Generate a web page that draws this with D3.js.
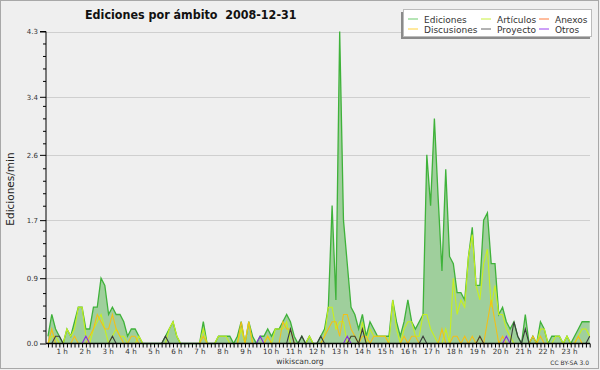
<!DOCTYPE html>
<html><head><meta charset="utf-8">
<script src="https://cdn.jsdelivr.net/npm/d3@7"></script>
<style>body{margin:0;background:#fff}svg{display:block}text{white-space:pre}</style>
</head><body>
<svg id="c" width="600" height="370"></svg>
<script>
const title = "Ediciones por ámbito  2008-12-31";
const yLabel = "Ediciones/min";
const credit = "wikiscan.org";
const license = "CC BY-SA 3.0";
const yTicks = [0.0, 0.9, 1.7, 2.6, 3.4, 4.3];
const hours = [1,2,3,4,5,6,7,8,9,10,11,12,13,14,15,16,17,18,19,20,21,22,23];
const hourLabels = ["1 h","2 h","3 h","4 h","5 h","6 h","7 h","8 h","9 h","10 h","11 h","12 h","13 h","14 h","15 h","16 h","17 h","18 h","19 h","20 h","21 h","22 h","23 h"];
const legendNames = ["Ediciones","Artículos","Anexos","Discusiones","Proyecto","Otros"];
const legendColors = ["#6ccb6c","#c8f03c","#ff7a3c","#ffd23c","#666666","#9a40f0"];

// one value per 10 minutes (edits per minute), 6 per row = one hour per row
const ediciones = [
0.1,0.4,0.2,0.1,0,0.2,
0.1,0.3,0.5,0.5,0.2,0.2,
0.5,0.5,0.9,0.8,0.4,0.5,
0.4,0.4,0.3,0.1,0.2,0.2,
0.1,0,0,0,0,0,
0,0.1,0.2,0.3,0.1,0,
0,0,0,0,0,0.3,
0,0,0,0.1,0.1,0.1,
0.1,0,0.1,0.3,0,0.3,
0.1,0,0.1,0.1,0.2,0.1,
0.2,0.2,0.3,0.4,0.3,0.1,
0,0.1,0,0.1,0,0,
0.1,0.2,0.5,1.9,0.6,4.3,
1.7,1.1,0.5,0.4,0.2,0.4,
0.1,0.3,0.2,0.1,0.1,0.1,
0.1,0.6,0.3,0.1,0.3,0.6,
0.3,0.2,0.3,0.4,2.6,1.9,
3.1,2.0,1.0,2.4,1.2,1.1,
0.7,0.7,0.6,1.2,1.6,0.8,
0.8,1.7,1.8,1.1,1.1,0.4,
0.5,0.3,0.2,0.3,0.1,0,
0.4,0,0.1,0,0.3,0.2,
0,0.1,0.1,0.1,0,0.1,
0,0.1,0.2,0.3,0.3,0.3];
const articulos = [
0,0.1,0.1,0,0,0.2,
0.1,0.2,0.5,0.5,0.1,0,
0.2,0.3,0.4,0.2,0,0.1,
0.2,0.1,0.1,0,0,0,
0.1,0,0,0,0,0,
0,0,0.2,0.3,0.1,0,
0,0,0,0,0,0.2,
0,0,0,0.1,0.1,0.1,
0,0,0,0.2,0,0.3,
0,0,0,0,0.1,0,
0.2,0.2,0.2,0.3,0,0,
0,0,0,0.1,0,0,
0,0.1,0.5,0.5,0.2,0.3,
0.3,0,0.1,0.1,0,0.3,
0,0.2,0.1,0.1,0.1,0.1,
0,0.6,0.2,0,0.2,0.3,
0.3,0.1,0.1,0.4,0.4,0.2,
0.1,0,0,0.2,0,0.9,
0.4,0.6,0.5,1.2,1.5,0.8,
0.6,1.1,1.3,0.5,0.8,0.4,
0.4,0.2,0.1,0,0,0,
0,0,0,0,0.2,0.2,
0,0,0.1,0.1,0,0.1,
0,0,0.1,0.2,0.2,0.1];
const anexos = [
0,0,0,0,0,0, 0,0,0,0,0,0, 0,0,0,0,0,0, 0,0,0,0,0,0,
0,0,0,0,0,0, 0,0,0,0,0,0, 0,0,0,0,0,0, 0,0,0,0,0,0,
0,0,0,0,0,0, 0,0,0,0,0,0, 0,0,0,0,0,0, 0,0,0,0,0,0,
0,0,0,0,0,0, 0,0,0,0,0,0, 0,0,0,0,0,0, 0,0,0,0,0,0,
0,0,0,0,0,0, 0,0,0,0,0,0, 0,0,0,0,0,0, 0,0,0,0,0,0,
0,0,0,0,0,0, 0,0,0,0,0,0, 0,0,0,0,0,0, 0,0,0,0,0,0];
const discusiones = [
0,0.2,0,0,0,0,
0,0.1,0,0,0,0.1,
0.2,0.4,0.3,0.2,0.2,0.4,
0.2,0.1,0,0,0.1,0.1,
0,0,0,0,0,0,
0,0,0,0,0,0,
0,0,0,0,0,0.1,
0,0,0,0,0,0,
0,0,0,0.3,0,0.3,
0,0,0,0,0.1,0,
0,0,0.3,0.2,0.2,0,
0,0,0,0,0,0,
0,0.1,0.2,0.3,0.3,0.1,
0.4,0.4,0.2,0.1,0,0.1,
0.1,0,0.1,0.1,0.1,0.1,
0,0,0,0,0.1,0,
0.1,0.1,0,0,0,0,
0,0,0.2,0,0,0.1,
0.1,0,0.1,0,0.1,0,
0.1,0,0.3,0.6,0.3,0,
0.1,0,0,0,0,0,
0,0,0.1,0,0.1,0,
0,0,0,0,0,0,
0,0,0.1,0,0,0];
const proyecto = [
0,0,0.1,0.1,0,0,
0,0,0,0,0,0,
0,0,0,0,0,0.1,
0,0,0,0,0,0,
0,0,0,0,0,0,
0,0.1,0,0,0,0,
0,0,0,0,0,0,
0,0,0,0,0,0,
0,0,0,0,0,0,
0,0,0,0,0,0,
0,0,0,0,0.2,0,
0,0.1,0,0,0,0,
0.1,0,0,0,0,0,
0,0,0.1,0.1,0,0.2,
0,0,0,0,0,0,
0,0,0,0,0,0,
0,0,0,0.1,0,0,
0,0,0,0,0,0,
0,0,0,0,0,0,
0.1,0,0,0,0,0,
0,0,0,0.3,0.1,0,
0.2,0,0,0,0,0,
0,0,0,0,0,0,
0,0,0,0,0,0.1];
const otros = [
0,0,0,0,0,0,
0,0,0,0,0.1,0,
0,0,0,0,0,0, 0,0,0,0,0,0, 0,0,0,0,0,0, 0,0,0,0,0,0,
0,0,0,0,0,0, 0,0,0,0,0,0, 0,0,0,0,0,0,
0,0,0.1,0,0,0,
0,0,0,0,0,0, 0,0,0,0,0,0, 0,0,0,0,0,0,
0,0.1,0,0,0,0,
0,0,0,0,0,0, 0,0,0,0,0,0, 0,0,0,0,0,0, 0,0,0,0,0,0, 0,0,0,0,0,0, 0,0,0,0,0,0,
0,0.1,0,0,0,0,
0,0,0,0,0,0, 0,0,0,0,0,0, 0,0,0,0,0,0];

const W = 600, H = 370;
const svg = d3.select("#c");
const F = "'DejaVu Sans', sans-serif";

// background + frame
svg.append("rect").attr("x",0).attr("y",0).attr("width",W).attr("height",H).attr("fill","#efefef");
svg.append("rect").attr("x",0.5).attr("y",0.5).attr("width",W-2).attr("height",H-2)
  .attr("fill","none").attr("stroke","#a8a8a8");

const x = d3.scaleLinear().domain([0, 143]).range([48, 589.7]);
const y = d3.scaleLinear().domain([0, 4.3]).range([343.5, 31.5]);
// hour label placement scale
const xh = d3.scaleLinear().domain([1, 23]).range([56.5, 561.5]);

// grid
svg.append("g").selectAll("line").data(yTicks.slice(1)).join("line")
  .attr("x1",46).attr("x2",590).attr("y1",d=>Math.round(y(d))+0.5).attr("y2",d=>Math.round(y(d))+0.5)
  .attr("stroke","#cfcfcf").attr("stroke-width",1);

// area + lines
const idx = d3.range(ediciones.length);
const area = d3.area().x(i=>x(i)).y0(y(0)).y1(i=>y(ediciones[i]));
svg.append("path").datum(idx).attr("d",area).attr("fill","#9fcf9c");
const line = arr => d3.line().x(i=>x(i)).y(i=>y(arr[i]))(idx);
svg.append("path").attr("d",line(ediciones)).attr("fill","none").attr("stroke","#3fb23a").attr("stroke-width",1.3);
const others = [[articulos,"#c8f01e"],[discusiones,"#f2c018"],[anexos,"#ff7a3c"],[proyecto,"#3c3c3c"],[otros,"#8a2be2"]];
others.forEach(([arr,col])=>{
  svg.append("path").attr("d",line(arr)).attr("fill","none").attr("stroke",col).attr("stroke-width",1.1);
});

// y axis
const yAxis = d3.axisLeft(y).tickValues(yTicks).tickFormat(d3.format(".1f")).tickSize(6).tickPadding(2);
const ya = svg.append("g").attr("transform","translate(46,0)").call(yAxis);
ya.select(".domain").attr("d","M-6,"+y(4.3)+"H0V"+y(0)).attr("stroke","#000");
ya.selectAll("text").attr("font-family",F).attr("font-size",7).attr("fill","#333");
ya.selectAll(".tick line").attr("stroke","#000");
const minor = [];
for (let k=1;k<25;k++){ if(k%5) minor.push(4.3*k/25); }
svg.append("g").selectAll("line").data(minor).join("line")
  .attr("x1",43).attr("x2",46).attr("y1",d=>y(d)).attr("y2",d=>y(d)).attr("stroke","#000");

// x axis
const xAxis = d3.axisBottom(x).tickValues(d3.range(0,144)).tickFormat("").tickSize(4);
const xa = svg.append("g").attr("transform","translate(0,343.5)").call(xAxis);
xa.select(".domain").attr("d","M46,0H590").attr("stroke","#000").attr("stroke-width",1.5);
xa.selectAll(".tick line").attr("stroke","#000");
svg.append("g").selectAll("text").data(hours).join("text")
  .attr("x",h=>xh(h)).attr("y",353.5).attr("text-anchor","start")
  .attr("font-family",F).attr("font-size",7.2).attr("fill","#333").text((h,i)=>hourLabels[i]);

// title
svg.append("text").attr("x",85).attr("y",18.5).attr("text-anchor","start")
  .attr("font-family","'DejaVu Sans Condensed','DejaVu Sans',sans-serif").attr("font-weight","bold")
  .attr("font-size",12.4).attr("fill","#111").text(title);

// y label
svg.append("text").attr("transform","translate(14,189) rotate(-90)").attr("text-anchor","middle")
  .attr("font-family",F).attr("font-size",10.5).attr("fill","#222").text(yLabel);

// legend
svg.append("rect").attr("x",401).attr("y",12).attr("width",189).attr("height",27).attr("fill","#8a8a8a");
svg.append("rect").attr("x",403.5).attr("y",9.5).attr("width",188).attr("height",27).attr("fill","#fff").attr("stroke","#bbb");
const lx = [408, 481, 539], ly = [19, 29];
legendNames.forEach((n,i)=>{
  const cx = lx[i%3], cy = ly[Math.floor(i/3)];
  svg.append("line").attr("x1",cx).attr("x2",cx+10).attr("y1",cy).attr("y2",cy).attr("stroke",legendColors[i]).attr("stroke-width",1);
  svg.append("text").attr("x",cx+16).attr("y",cy+3.5).attr("font-family",F).attr("font-size",9).attr("fill","#333").text(n);
});

// footer
svg.append("text").attr("x",300).attr("y",363.5).attr("text-anchor","middle").attr("font-family",F).attr("font-size",7.6).attr("fill","#333").text(credit);
svg.append("text").attr("x",589).attr("y",365).attr("text-anchor","end").attr("font-family",F).attr("font-size",6).attr("fill","#333").text(license);
</script>
</body></html>
